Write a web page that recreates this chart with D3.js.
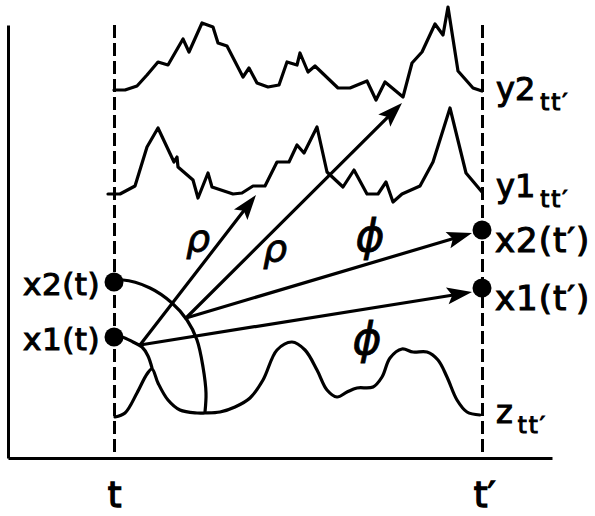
<!DOCTYPE html>
<html>
<head>
<meta charset="utf-8">
<script src="https://cdn.jsdelivr.net/npm/d3@7"></script>
<style>
  body { margin: 0; background: #fff; }
  svg { display: block; }
  text { font-family: "DejaVu Sans", sans-serif; fill: #000; }
</style>
</head>
<body>
<svg id="chart" width="595" height="516"></svg>
<script>
// Time runs from t (0) to t' (92); signal values are in arbitrary units.

const tickTimes = [0, 92];
const tickLabels = ["t", "t\u2032"];

// [time, value]
const y2Series = [
  [0, 92], [2.75, 92], [5.75, 93], [8.25, 95.75], [11, 99], [13.5, 98.25],
  [17.25, 104.75], [18.75, 101.5], [22, 108.75], [24.75, 107.75], [26, 103.75],
  [28.25, 103], [32.25, 95.25], [33.75, 97.5], [35.75, 93.75], [38.5, 92.75],
  [41.25, 93.25], [43.25, 99], [45.75, 98.25], [46.5, 101.25], [48.5, 96.5],
  [50.25, 98], [56, 92.5], [59, 92.5], [63.25, 94.25], [65.5, 89.5], [67.75, 94],
  [72.25, 90.25], [74.5, 98.75], [77, 101.5], [80.25, 108.5], [82.25, 105.75],
  [83.5, 112.75], [86, 96.75], [89.75, 92.5], [92, 91.75]
];

const y1Series = [
  [-1.5, 66], [1.5, 66], [5.25, 68], [8.25, 77.75], [11, 82.5], [15, 74],
  [15.75, 75.25], [16, 72.75], [19.75, 69.5], [21, 65], [23.5, 71.25],
  [24.5, 67.75], [29.75, 66], [32, 66.25], [34.75, 68], [37.75, 68], [40.75, 74],
  [43.75, 74], [45.75, 78.25], [47.5, 76.25], [50.75, 82.75], [53.25, 71.5],
  [57.25, 67.75], [60, 72], [63.25, 66], [66, 66], [68, 69], [69.75, 64], [72, 66],
  [76.5, 68], [79.75, 74], [84, 87.5], [88, 71.25], [92, 66.5]
];

const zSeries = [
  [0.25, 10.25], [2.75, 11.25], [5.75, 16.25], [8.25, 21], [9.5, 22.25],
  [11, 18.75], [13.5, 14.5], [16.5, 12], [20.75, 11.25], [22.75, 11.25],
  [26.5, 11.5], [30.25, 12.75], [34, 15], [37.25, 19.5], [40.75, 27], [44.5, 29],
  [47.75, 27], [50.75, 22], [53.25, 17], [55.75, 15.25], [58.25, 16.5],
  [60.75, 17.5], [64.75, 17.75], [67, 20.25], [69, 25], [72, 27.25],
  [74.75, 26.5], [78.25, 26.5], [81, 24.5], [83.25, 20.25], [85.75, 14.5],
  [88.25, 11.5], [91.5, 10.75]
];

// trajectories leaving the states at time t
const x1Arc = [[0, 30.25], [2, 30.25], [4.75, 29], [7, 27.75], [8.5, 25.5], [9.5, 22.5]];
const x2Arc = [
  [0, 44], [2.25, 44.5], [9, 42.5], [14.5, 38.75], [18.25, 34.5],
  [20.75, 29.5], [22.25, 22.75], [23, 16.25], [22.75, 11.5]
];

const states = [
  { name: "x2(t)", time: 0, value: 44 },
  { name: "x1(t)", time: 0, value: 30.25 },
  { name: "x2(t\u2032)", time: 92, value: 57 },
  { name: "x1(t\u2032)", time: 92, value: 42.5 }
];

// arrows: from [time, value] to [time, value]
const arrows = [
  { from: [6.5, 28.25], to: [35.5, 65.75] },
  { from: [18, 35], to: [72, 88.75] },
  { from: [18, 35], to: [89.5, 56.25] },
  { from: [6.5, 28.25], to: [89.5, 41.5] }
];

const greekLabels = [
  { text: "\u03C1", time: 21, value: 51.75 },
  { text: "\u03C1", time: 40.25, value: 49.25 },
  { text: "\u03D5", time: 64, value: 51.75 },
  { text: "\u03D5", time: 63.25, value: 26 }
];

const seriesLabels = [
  { main: "y2", sub: "tt\u2032", value: 89.5 },
  { main: "y1", sub: "tt\u2032", value: 65.25 },
  { main: "z", sub: "tt\u2032", value: 8.75 }
];

const svg = d3.select("#chart");

const x = d3.scaleLinear().domain([-26.5, 109.5]).range([8, 552]);
const y = d3.scaleLinear().domain([0, 108.25]).range([458, 25]);
const plotTop = y.range()[1];
const plotBottom = y.range()[0];

// axes: bottom axis carries the dashed t / t' markers
const xAxis = d3.axisBottom(x)
  .tickValues(tickTimes)
  .tickFormat((d, i) => tickLabels[i])
  .tickSizeOuter(0);

const gx = svg.append("g")
  .attr("transform", `translate(0,${plotBottom})`)
  .call(xAxis);

gx.select(".domain").attr("stroke", "#000").attr("stroke-width", 3);
gx.selectAll(".tick line")
  .attr("y1", plotTop - plotBottom)
  .attr("y2", 0)
  .attr("stroke", "#000")
  .attr("stroke-width", 3)
  .attr("stroke-dasharray", "13,5");
gx.selectAll(".tick text")
  .attr("y", 49)
  .attr("dy", 0)
  .attr("dx", (d, i) => i === 1 ? 2 : 0)
  .style("font-family", "DejaVu Sans, sans-serif")
  .style("font-size", "35px")
  .attr("fill", "#000")
  .attr("stroke", "#000")
  .attr("stroke-width", 1.4);

const yAxis = d3.axisLeft(y).tickValues([]).tickSizeOuter(0);
svg.append("g")
  .attr("transform", `translate(${x.range()[0]},0)`)
  .call(yAxis)
  .select(".domain")
  .attr("stroke", "#000")
  .attr("stroke-width", 3);

// traces
const jagged = d3.line().x(d => x(d[0])).y(d => y(d[1]));
const smooth = d3.line().x(d => x(d[0])).y(d => y(d[1])).curve(d3.curveCatmullRom.alpha(0.5));

const traces = [
  { data: y2Series, gen: jagged },
  { data: y1Series, gen: jagged },
  { data: zSeries, gen: smooth },
  { data: x1Arc, gen: smooth },
  { data: x2Arc, gen: smooth }
];

svg.selectAll(".trace")
  .data(traces)
  .enter()
  .append("path")
  .attr("class", "trace")
  .attr("d", d => d.gen(d.data))
  .attr("fill", "none")
  .attr("stroke", "#000")
  .attr("stroke-width", 3.2)
  .attr("stroke-linejoin", "round")
  .attr("stroke-linecap", "round");

// arrows, shaft stops short of the tip so the head stays sharp
const headLen = 25, headHalf = 8.5;
const arrowG = svg.selectAll(".arrow")
  .data(arrows)
  .enter()
  .append("g")
  .attr("class", "arrow");

arrowG.each(function(d) {
  const g = d3.select(this);
  const x0 = x(d.from[0]), y0 = y(d.from[1]);
  const x1 = x(d.to[0]), y1 = y(d.to[1]);
  const len = Math.hypot(x1 - x0, y1 - y0);
  const ux = (x1 - x0) / len, uy = (y1 - y0) / len;
  const stop = 14;
  g.append("line")
    .attr("x1", x0).attr("y1", y0)
    .attr("x2", x1 - ux * stop).attr("y2", y1 - uy * stop)
    .attr("stroke", "#000")
    .attr("stroke-width", 3.2)
    .attr("stroke-linecap", "round");
  const bx = x1 - ux * headLen, by = y1 - uy * headLen;
  const nx = x1 - ux * (headLen - 5), ny = y1 - uy * (headLen - 5);
  g.append("path")
    .attr("d", `M${x1},${y1}L${bx - uy * headHalf},${by + ux * headHalf}` +
      `L${nx},${ny}L${bx + uy * headHalf},${by - ux * headHalf}Z`)
    .attr("fill", "#000");
});

// state dots
svg.selectAll(".state")
  .data(states)
  .enter()
  .append("circle")
  .attr("class", "state")
  .attr("cx", d => x(d.time))
  .attr("cy", d => y(d.value))
  .attr("r", 9.5)
  .attr("fill", "#000");

// state labels
svg.selectAll(".state-label")
  .data(states)
  .enter()
  .append("text")
  .attr("class", "state-label")
  .attr("x", d => d.time === 0 ? x(d.time) - 14 : x(d.time) + 13)
  .attr("y", d => y(d.value) + (d.time === 0 ? 13 : 22))
  .attr("text-anchor", d => d.time === 0 ? "end" : "start")
  .style("font-size", d => d.time === 0 ? "31px" : "34px")
  .style("letter-spacing", d => d.time === 0 ? "0.5px" : "1px")
  .attr("stroke", "#000")
  .attr("stroke-width", 1.1)
  .text(d => d.name);

// signal labels with subscripts
const sl = svg.selectAll(".series-label")
  .data(seriesLabels)
  .enter()
  .append("text")
  .attr("class", "series-label")
  .attr("x", x(92) + 14)
  .attr("y", d => y(d.value))
  .attr("stroke", "#000")
  .attr("stroke-width", 1.1)
  .style("font-size", "32px");

sl.append("tspan").text(d => d.main);
sl.append("tspan")
  .attr("dx", 5)
  .attr("dy", 10)
  .style("font-size", "23px")
  .style("letter-spacing", "2px")
  .text(d => d.sub);

// greek labels
svg.selectAll(".greek")
  .data(greekLabels)
  .enter()
  .append("text")
  .attr("class", "greek")
  .attr("x", d => x(d.time))
  .attr("y", d => y(d.value))
  .attr("text-anchor", "middle")
  .style("font-style", "italic")
  .style("font-size", d => d.text === "\u03C1" ? "38px" : "44px")
  .attr("stroke", "#000")
  .attr("stroke-width", 0.8)
  .text(d => d.text);
</script>
</body>
</html>
